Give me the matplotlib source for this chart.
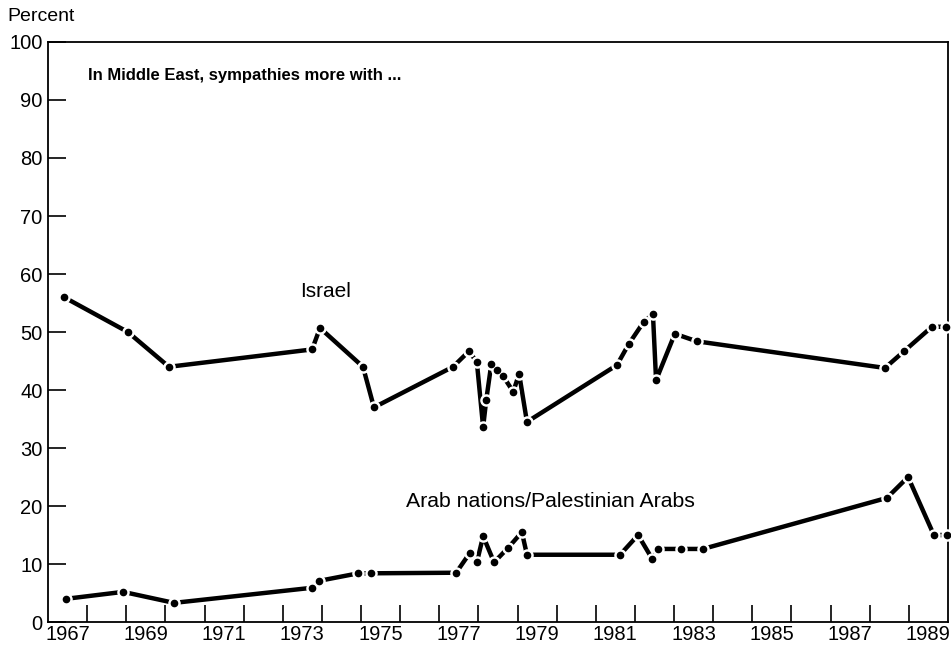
import matplotlib
matplotlib.use('agg')
import matplotlib.pyplot as plt
import numpy as np

plt.rcParams['font.family'] = ['Liberation Sans', 'DejaVu Sans']

# poll dates (decimal years) and percentages
israel_x = [1967.41, 1969.04, 1970.09, 1973.75, 1973.95, 1975.05, 1975.33,
            1977.35, 1977.76, 1977.96, 1978.12, 1978.2, 1978.33, 1978.48,
            1978.63, 1978.89, 1979.04, 1979.24, 1981.54, 1981.84, 1982.22,
            1982.46, 1982.54, 1983.02, 1983.58, 1988.39, 1988.88, 1989.59,
            1989.94]
israel_y = [56, 50, 44, 47, 50.7, 44, 37, 44, 46.7, 44.8, 33.6, 38.3, 44.5,
            43.4, 42.4, 39.7, 42.8, 34.5, 44.3, 47.9, 51.7, 53.1, 41.7, 49.7,
            48.4, 43.8, 46.7, 50.9, 50.9]

arab_x = [1967.46, 1968.92, 1970.22, 1973.74, 1973.93, 1974.93, 1975.25,
          1977.43, 1977.78, 1977.96, 1978.12, 1978.4, 1978.76, 1979.11,
          1979.24, 1981.62, 1982.08, 1982.44, 1982.6, 1983.18, 1983.74,
          1988.44, 1988.98, 1989.64, 1989.97]
arab_y = [4, 5.2, 3.3, 5.9, 7.1, 8.4, 8.4, 8.5, 11.9, 10.3, 14.8, 10.3, 12.8,
          15.5, 11.6, 11.6, 15, 10.9, 12.6, 12.6, 12.6, 21.4, 25, 15, 15]

year_ticks = np.arange(1968, 1990)
year_labels = [str(y) for y in range(1967, 1990, 2)]

fig = plt.figure(figsize=(9.51, 6.47), dpi=100)
ax = fig.add_axes([0.0505, 0.0386, 0.9463, 0.8965])

for xs, ys in [(israel_x, israel_y), (arab_x, arab_y)]:
    ax.plot(xs, ys, '-', color='black', lw=3.2, solid_capstyle='butt', zorder=2)
    ax.plot(xs, ys, 'o', color='white', ms=8, mec='white', zorder=3,
            clip_on=False)
    ax.plot(xs, ys, 'o', color='black', ms=4.5, mec='black', zorder=4,
            clip_on=False)

ax.set_xlim(1967, 1990)
ax.set_ylim(0, 100)

ax.set_xticks(year_ticks)
ax.set_xticklabels([])
ax.set_xticks(np.arange(1967.5, 1990, 2), minor=True)
ax.set_xticklabels(year_labels, minor=True, fontsize=14.5)
ax.tick_params(axis='x', which='major', direction='in', length=12, width=1.2)
ax.tick_params(axis='x', which='minor', length=0, pad=2)

ax.set_yticks(range(0, 101, 10))
ax.tick_params(axis='y', direction='in', length=13, width=1.2,
               labelsize=14.5, pad=4)

for s in ax.spines.values():
    s.set_linewidth(1.3)

ax.text(1968.02, 94.3, 'In Middle East, sympathies more with ...',
        fontsize=12, fontweight='bold', va='center', ha='left')
ax.text(1973.44, 56.9, 'Israel', fontsize=15, va='center', ha='left')
ax.text(1976.15, 20.7, 'Arab nations/Palestinian Arabs', fontsize=15.3,
        va='center', ha='left')
fig.text(0.008, 0.975, 'Percent', fontsize=14, va='center', ha='left')

fig.savefig('out.png', dpi=100)
